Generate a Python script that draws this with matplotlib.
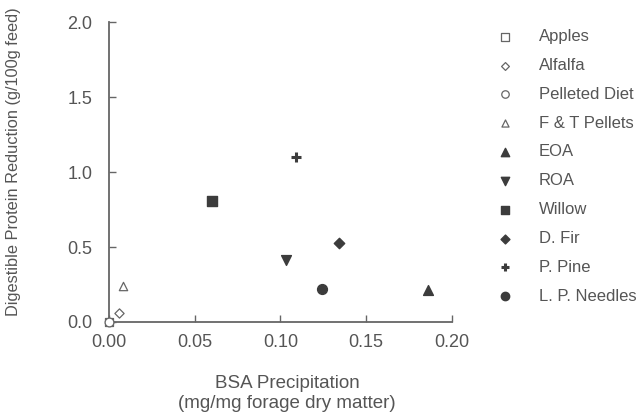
import matplotlib
matplotlib.use("Agg")
import matplotlib.pyplot as plt

plt.rcParams['font.family'] = ['Liberation Sans', 'DejaVu Sans']

# Dados
rotulos = ['Apples', 'Alfalfa', 'Pelleted Diet', 'F & T Pellets', 'EOA',
           'ROA', 'Willow', 'D. Fir', 'P. Pine', 'L. P. Needles']
bsa = [0.000, 0.006, 0.000, 0.008, 0.186, 0.103, 0.060, 0.134, 0.109, 0.124]
reducao = [0.00, 0.06, 0.00, 0.24, 0.21, 0.41, 0.81, 0.53, 1.10, 0.22]

marcadores = ['s', 'D', 'o', '^', '^', 'v', 's', 'D', 'P', 'o']
cheio = [False, False, False, False, True, True, True, True, True, True]
tamanhos = [40, 22, 40, 36, 50, 50, 50, 28, 50, 50]

cor = '#3c3c3c'
cor_texto = '#555555'

fig = plt.figure(figsize=(6.38, 4.16), dpi=100)
ax = fig.add_axes([0.171, 0.226, 0.537, 0.721])

for r, x, y, m, f, s in zip(rotulos, bsa, reducao, marcadores, cheio, tamanhos):
    if m == 'P':
        ax.scatter(x, y, marker='+', s=55, color=cor, linewidths=2.2,
                   label=r, clip_on=False, zorder=3)
    elif f:
        ax.scatter(x, y, marker=m, s=s, color=cor, edgecolors=cor,
                   label=r, clip_on=False, zorder=3)
    else:
        ax.scatter(x, y, marker=m, s=s, facecolors='white', edgecolors='#666666',
                   linewidths=0.9, label=r, clip_on=False, zorder=3)

ax.set_xlim(0, 0.20)
ax.set_ylim(0, 2.0)
ax.set_xticks([0.00, 0.05, 0.10, 0.15, 0.20])
ax.set_xticklabels(['0.00', '0.05', '0.10', '0.15', '0.20'])
ax.set_yticks([0.0, 0.5, 1.0, 1.5, 2.0])
ax.set_yticklabels(['0.0', '0.5', '1.0', '1.5', '2.0'])

for lado in ['top', 'right']:
    ax.spines[lado].set_visible(False)
for lado in ['left', 'bottom']:
    ax.spines[lado].set_color('#666666')
    ax.spines[lado].set_linewidth(1.3)

ax.tick_params(direction='in', length=5, width=1, color='#666666',
               labelsize=13, labelcolor=cor_texto)
ax.tick_params(axis='x', pad=9)
ax.tick_params(axis='y', pad=12)

# Rótulos dos eixos
fig.text(0.45, 1 - 384 / 416, 'BSA Precipitation', fontsize=13.5,
         color=cor_texto, ha='center', va='center')
fig.text(0.45, 1 - 404 / 416, '(mg/mg forage dry matter)', fontsize=13.5,
         color=cor_texto, ha='center', va='center')
fig.text(0.021, 1 - 162 / 416, 'Digestible Protein Reduction (g/100g feed)',
         fontsize=11.8, color=cor_texto, rotation=90, ha='center', va='center')

leg = ax.legend(loc='upper left', bbox_to_anchor=(0.765, 0.93),
                bbox_transform=fig.transFigure, frameon=False, fontsize=12,
                labelspacing=0.83, handletextpad=1.04, borderaxespad=0,
                borderpad=0, markerscale=0.85)
for t in leg.get_texts():
    t.set_color(cor_texto)

fig.savefig('out.png', dpi=100)
